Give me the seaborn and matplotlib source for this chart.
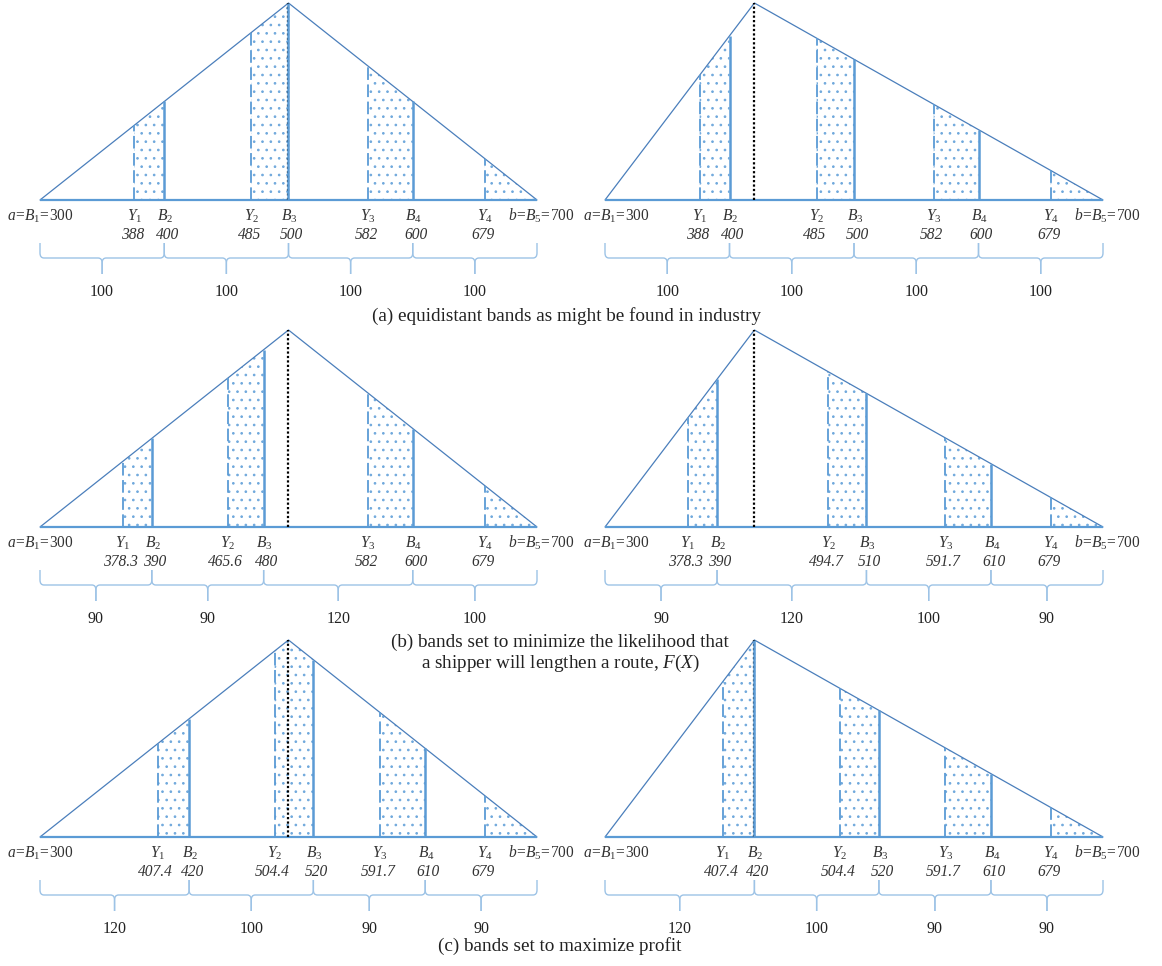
import numpy as np
import pandas as pd
import matplotlib
matplotlib.use("Agg")
import matplotlib.pyplot as plt
from matplotlib.path import Path
from matplotlib.patches import PathPatch
import seaborn as sns

# Route length range and mode of each distribution
A_VAL, B_VAL = 300, 700
mode_left = 500
mode_right = 420

# Panel (a): equidistant bands
a_left_Y = [388, 485, 582, 679]
a_left_B = [300, 400, 500, 600, 700]
a_right_Y = [388, 485, 582, 679]
a_right_B = [300, 400, 500, 600, 700]

# Panel (b): bands minimizing F(X)
b_left_Y = [378.3, 465.6, 582, 679]
b_left_B = [300, 390, 480, 600, 700]
b_right_Y = [378.3, 494.7, 591.7, 679]
b_right_B = [300, 390, 510, 610, 700]

# Panel (c): bands maximizing profit
c_left_Y = [407.4, 504.4, 591.7, 679]
c_left_B = [300, 420, 520, 610, 700]
c_right_Y = [407.4, 504.4, 591.7, 679]
c_right_B = [300, 420, 520, 610, 700]

captions = [
    "(a) equidistant bands as might be found in industry",
    "(b) bands set to minimize the likelihood that",
    "a shipper will lengthen a route, $\\mathit{F(X)}$",
    "(c) bands set to maximize profit",
]

# the original is a sketch: the Y..B gap is drawn twice its true width
GAP_STRETCH = 2.0

sns.set_theme(style="white")
plt.rcParams["font.family"] = ["Liberation Serif", "DejaVu Serif"]
plt.rcParams["mathtext.fontset"] = "custom"
plt.rcParams["mathtext.rm"] = "Liberation Serif"
plt.rcParams["mathtext.it"] = "Liberation Serif:italic"
plt.rcParams["hatch.linewidth"] = 0.7

TRI = "#4a7ebb"
LINE = "#5b9bd5"
BRACE = "#9dc3e6"
DOT = "#6fa8dc"

W, H = 1162, 966
UNIT = 197.0  # pixels per unit of height
fig = plt.figure(figsize=(W / 100, H / 100), dpi=100)


def tri(x, mode):
    x = np.asarray(x, dtype=float)
    return np.where(x <= mode, (x - A_VAL) / (mode - A_VAL), (B_VAL - x) / (B_VAL - mode))


def make_ax(xa_px, xb_px, base_px):
    scale = (xb_px - xa_px) / (B_VAL - A_VAL)
    left_px, right_px = xa_px - 40, xa_px + 540
    top_px, bot_px = base_px - 205, base_px + 110
    ax = fig.add_axes([left_px / W, 1 - bot_px / H, (right_px - left_px) / W, (bot_px - top_px) / H])
    ax.set_xlim(A_VAL - 40 / scale, A_VAL + 540 / scale)
    ax.set_ylim(-110 / UNIT, 205 / UNIT)
    ax.axis("off")
    return ax, scale


def brace(ax, x0, x1, scale):
    y_top, y_mid, y_tip = -43 / UNIT, -58 / UNIT, -74 / UNIT
    rx, ry = 4 / scale, 5 / UNIT
    xc = (x0 + x1) / 2
    for xe, s in [(x0, 1), (x1, -1)]:
        verts = [(xe, y_top), (xe, y_mid + ry), (xe, y_mid), (xe + s * rx, y_mid),
                 (xc - s * rx, y_mid), (xc, y_mid), (xc, y_mid - ry), (xc, y_tip)]
        codes = [Path.MOVETO, Path.LINETO, Path.CURVE3, Path.CURVE3,
                 Path.LINETO, Path.CURVE3, Path.CURVE3, Path.LINETO]
        ax.add_patch(PathPatch(Path(verts, codes), fill=False, edgecolor=BRACE, lw=1.0))


def draw_panel(xa_px, xb_px, base_px, mode, Y, B, a_shift=0):
    ax, scale = make_ax(xa_px, xb_px, base_px)
    Y = np.asarray(Y, dtype=float)
    B = np.asarray(B, dtype=float)
    Yd = B[1:] - GAP_STRETCH * (B[1:] - Y)

    # shaded regions between each Y_i and B_{i+1}
    for y0, b1 in zip(Yd, B[1:]):
        xs = sorted({y0, b1} | ({mode} if y0 < mode < b1 else set()))
        ax.fill_between(xs, 0, tri(xs, mode), facecolor="none", edgecolor=DOT,
                        hatch="..", linewidth=0)

    # triangle outline
    outline = pd.DataFrame({"x": [A_VAL, mode, B_VAL], "y": tri([A_VAL, mode, B_VAL], mode)})
    sns.lineplot(data=outline, x="x", y="y", ax=ax, color=TRI, lw=0.9, sort=False)
    ax.plot([A_VAL, B_VAL], [0, 0], color=LINE, lw=1.6, solid_capstyle="butt")

    ax.vlines(mode, 0, 1, color="black", lw=1.6, linestyles=(0, (1, 1)))
    ax.vlines(Yd, 0, tri(Yd, mode), color=LINE, lw=1.3, linestyles=(0, (7, 2.5)))
    ax.vlines(B[1:-1], 0, tri(B[1:-1], mode), color=LINE, lw=1.8)

    name_y, val_y = -21 / UNIT, -39 / UNIT
    lab = dict(ha="center", va="baseline", style="italic", fontsize=11.2, color="#333333")
    ax.text(A_VAL + a_shift / scale, name_y, r"$a\!=\!B_{1}\!=\!\mathit{300}$", **lab)
    ax.text(B_VAL + 4 / scale, name_y, r"$b\!=\!B_{5}\!=\!\mathit{700}$", **lab)
    for i, (v, xd) in enumerate(zip(Y, Yd)):
        ax.text(xd, name_y, rf"$Y_{{{i + 1}}}$", **lab)
        ax.text(xd - 2 / scale, val_y, f"{v:g}", **lab)
    for i, v in enumerate(B[1:-1]):
        ax.text(v + 1 / scale, name_y, rf"$B_{{{i + 2}}}$", **lab)
        ax.text(v + 3 / scale, val_y, f"{v:g}", **lab)

    widths = np.diff(B)
    for x0, x1, w in zip(B[:-1], B[1:], widths):
        brace(ax, x0, x1, scale)
        ax.text((x0 + x1) / 2, -92 / UNIT, f"{w:g}", ha="center", va="center",
                fontsize=11.5, color="#222222")


draw_panel(40, 537, 200, mode_left, a_left_Y, a_left_B)
draw_panel(605, 1103, 200, mode_right, a_right_Y, a_right_B, a_shift=11)
draw_panel(40, 537, 527, mode_left, b_left_Y, b_left_B)
draw_panel(605, 1103, 527, mode_right, b_right_Y, b_right_B, a_shift=11)
draw_panel(40, 537, 837, mode_left, c_left_Y, c_left_B)
draw_panel(605, 1103, 837, mode_right, c_right_Y, c_right_B, a_shift=11)

cap = dict(ha="center", va="center", fontsize=13.8, color="#222222")
fig.text(567 / W, 1 - 316 / H, captions[0], **cap)
fig.text(560 / W, 1 - 642 / H, captions[1], **cap)
fig.text(560 / W, 1 - 663 / H, captions[2], **cap)
fig.text(560 / W, 1 - 946 / H, captions[3], **cap)

fig.savefig("out.png", dpi=100)
plt.close(fig)
